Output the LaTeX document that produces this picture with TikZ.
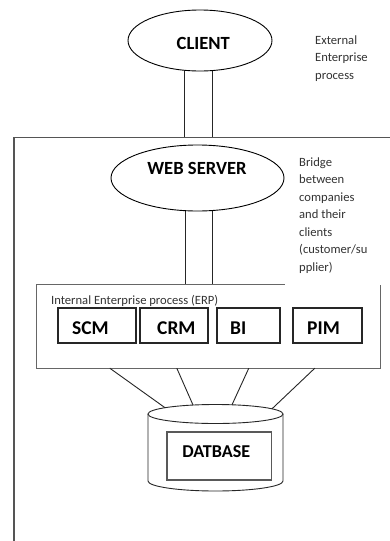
\documentclass[tikz,border=0pt]{standalone}
\usepackage{fontspec}
\setmainfont{Carlito}
\usetikzlibrary{shapes.geometric,calc}
\definecolor{framecol}{HTML}{555555}
\definecolor{smalltext}{HTML}{333333}
\pgfdeclarelayer{bg}
\pgfdeclarelayer{paper}
\pgfsetlayers{paper,bg,main}
\begin{document}
\begin{tikzpicture}[x=1pt,y=-1pt,
  ell/.style={draw=black, line width=0.9pt, ellipse, fill=white, inner sep=0},
  bigtxt/.style={font=\bfseries\fontsize{18.6}{22}\selectfont, inner sep=0, anchor=base, text=black},
  modtxt/.style={font=\bfseries\fontsize{19.5}{23}\selectfont, inner sep=0, anchor=base west, text=black},
  smalltxt/.style={font=\fontsize{12.6}{17.5}\selectfont, inner sep=0, text=smalltext, align=left},
  modbox/.style={draw=black!85, line width=1.4pt, inner sep=0, minimum height=35},
  link/.style={draw=black!85, line width=0.9pt},
  frameline/.style={draw=framecol, line width=1.6pt},
  erpline/.style={draw=black!60, line width=1pt},
]
\useasboundingbox (0,0) rectangle (390,541);
\begin{pgfonlayer}{paper}
\fill[white] (0,0) rectangle (390,541);
\end{pgfonlayer}

% outer frame
\coordinate (ftl) at (14,137.5);
\coordinate (ftr) at (390,137.5);
\coordinate (fbl) at (14,541);
\draw[frameline] (fbl) -- (ftl) -- (ftr);

% client
\node[ell, minimum width=144, minimum height=61] (client) at (200,40.5) {};
\node[bigtxt] (clienttxt) at (203.3,49.3) {CLIENT};
\begin{pgfonlayer}{bg}
\draw[link] ([xshift=-16pt]client.center) -- ([xshift=-16pt]client.center |- ftl);
\draw[link] ([xshift=12pt]client.center) -- ([xshift=12pt]client.center |- ftl);
\end{pgfonlayer}
\node[smalltxt, anchor=north west] (ext) at (315,35.5) {External\\Enterprise\\process};

% ERP box
\node[inner sep=0, minimum width=343, minimum height=83] (erp) at (208.5,326.5) {};
\draw[erpline] ($(erp.north west)+(248,0)$) -- (erp.north west) -- (erp.south west) -- (erp.south east) -- (erp.north east);

% web server
\node[ell, minimum width=173, minimum height=66] (web) at (197.5,178) {};
\node[bigtxt] (webtxt) at (197,174.3) {WEB SERVER};
\begin{pgfonlayer}{bg}
\draw[link] ([xshift=-12.5pt]web.center) -- ([xshift=-12.5pt]web.center |- erp.north);
\draw[link] ([xshift=15pt]web.center) -- ([xshift=15pt]web.center |- erp.north);
\end{pgfonlayer}
\node[smalltxt, anchor=north west] (bridge) at (299,157.5) {Bridge\\between\\companies\\and their\\clients\\(customer/su\\pplier)};

\node[smalltxt, anchor=base west] (erplabel) at (51,304) {Internal Enterprise process (ERP)};

% modules
\node[modbox, minimum width=78] (scm) at (97,325.5) {};
\node[modbox, minimum width=68] (crm) at (174,325.5) {};
\node[modbox, minimum width=63] (bi) at (248.5,325.5) {};
\node[modbox, minimum width=69] (pim) at (327.5,325.5) {};
\node[modtxt] (scmtxt) at (72,334) {SCM};
\node[modtxt] (crmtxt) at (157,334) {CRM};
\node[modtxt] (bitxt) at (230,334) {BI};
\node[modtxt] (pimtxt) at (307,334) {PIM};

% database cylinder
\coordinate (dbc) at (215.5,414);
\draw[link, fill=white] (dbc) ellipse [x radius=67.5pt, y radius=9.5pt];
\draw[link] (148,414) -- (148,481) arc[start angle=180, end angle=360, x radius=67.5pt, y radius=10pt] -- (283,414);
\node[draw=black!65, line width=1.5pt, minimum width=104.5, minimum height=48, inner sep=0] (dbbox) at (219.2,456) {};
\node[font=\bfseries\fontsize{18.1}{22}\selectfont, inner sep=0, anchor=base, text=black] (dbtxt) at (216.3,457.7) {DATBASE};

\coordinate (db1) at (165,407.7);
\coordinate (db2) at (193,405);
\coordinate (db3) at (232,404.8);
\coordinate (db4) at (272,408.8);
\draw[link] ($(erp.south west)+(73,0)$) -- (db1);
\draw[link] ($(erp.south west)+(140,0)$) -- (db2);
\draw[link] ($(erp.south west)+(212,0)$) -- (db3);
\draw[link] ($(erp.south west)+(278,0)$) -- (db4);
\end{tikzpicture}
\end{document}
